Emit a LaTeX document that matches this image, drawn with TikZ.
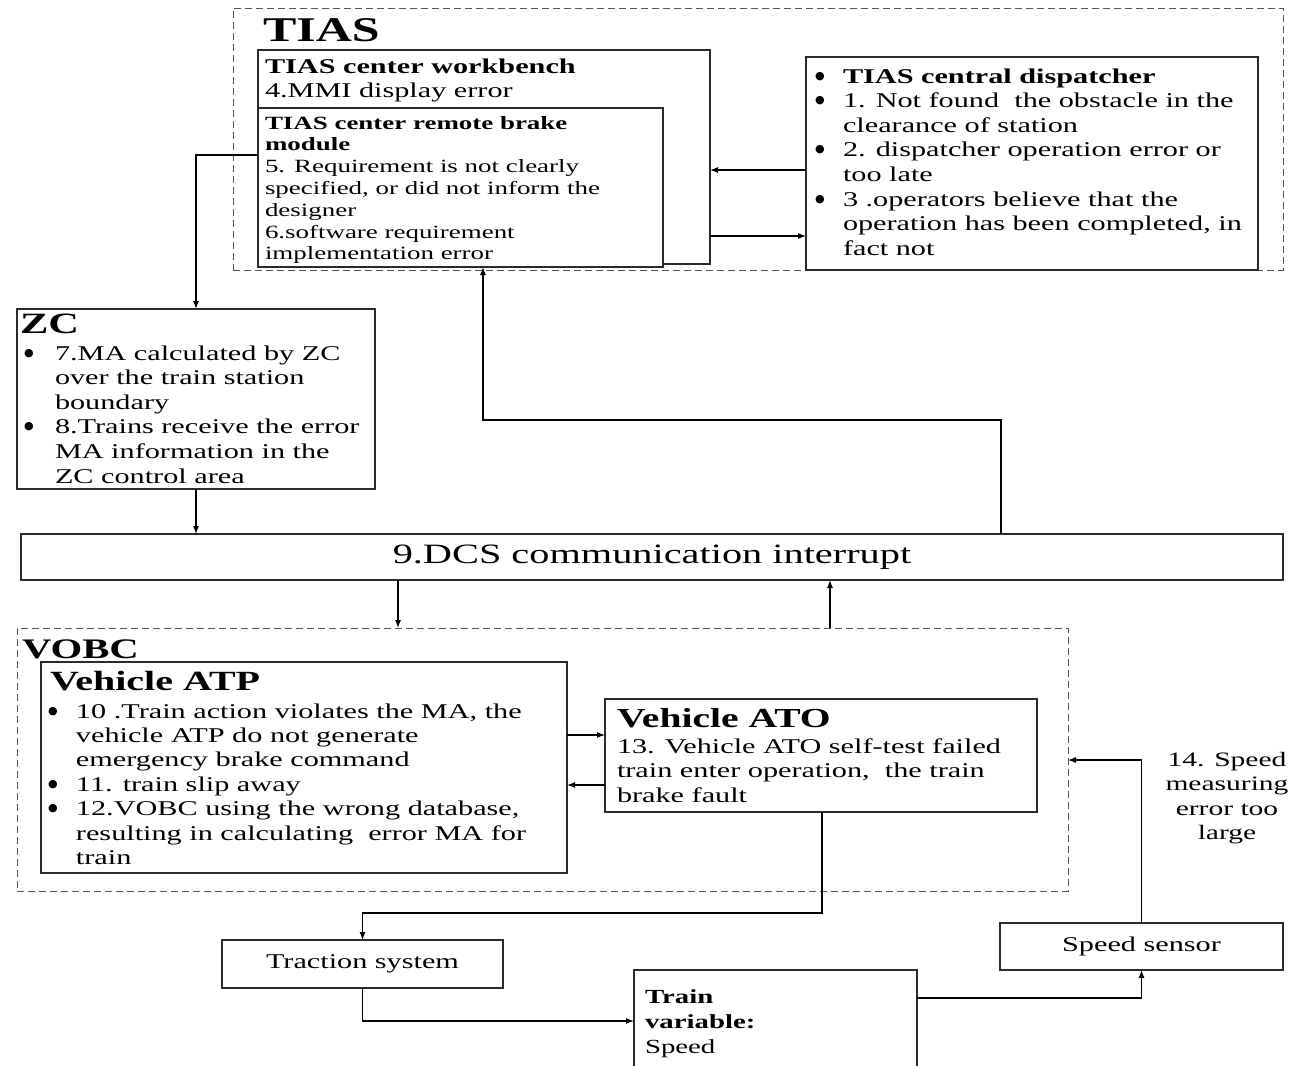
\documentclass[tikz,border=0pt]{standalone}
\usepackage{fontspec}
\setmainfont{Liberation Serif}[FakeStretch=1.44]
\newfontfamily\dotfont{DejaVu Sans}
\usetikzlibrary{arrows.meta}

\definecolor{boxc}{HTML}{2B2B2B}
\definecolor{dashc}{HTML}{555555}

\newlength{\bulw}
\setlength{\bulw}{28pt}
\newcommand{\blt}{\makebox[\bulw][l]{\raisebox{4pt}{\dotfont\fontsize{11}{11}\selectfont ●}}}
\newcommand{\cnt}{\hspace*{\bulw}}
\newcommand{\bodyfont}{\fontsize{21}{24.6}\selectfont}
\newcommand{\lines}[1]{\begin{tabular}[t]{@{}l@{}}#1\end{tabular}}

\tikzset{
  box/.style={draw=boxc, line width=1.1pt, fill=white, inner sep=0pt,
    outer sep=0pt, anchor=north west},
  group/.style={draw=dashc, line width=1pt, dash pattern=on 7pt off 4pt,
    inner sep=0pt, outer sep=0pt, anchor=north west},
  txt/.style={inner sep=0pt, outer sep=0pt, anchor=base west, font=\bodyfont},
  ttl/.style={inner sep=0pt, outer sep=0pt, anchor=base west},
  arr/.style={draw=black, line width=1.1pt, -{Latex[length=8pt,width=6pt]}},
}

\begin{document}
\begin{tikzpicture}[x=1pt,y=-1pt]
\useasboundingbox (0,0) rectangle (1294,1066);
\clip (0,0) rectangle (1294,1066);

% ---------------- TIAS group ----------------
\node[group, minimum width=1050pt, minimum height=262pt] (tias) at (233,8) {};
\node[ttl, font=\fontsize{34.7}{40}\selectfont\bfseries] (tiasT) at (263,41) {TIAS};

\node[box, minimum width=452pt, minimum height=214pt] (wb) at (258,50) {};
\node[txt] (wbT) at (265,73)
  {\lines{\textbf{TIAS center workbench}\\4.MMI display error}};

\node[box, minimum width=405pt, minimum height=159pt] (rb) at (258,108) {};
\node[txt, font=\fontsize{18.7}{21.8}\selectfont] (rbT) at (265,129)
  {\lines{\textbf{TIAS center remote brake}\\
          \textbf{module}\\
          5. Requirement is not clearly\\
          specified, or did not inform the\\
          designer\\
          6.software requirement\\
          implementation error}};

\node[box, minimum width=452pt, minimum height=213pt] (disp) at (806,57) {};
\node[txt] (dispT) at (815,83)
  {\lines{\blt\textbf{TIAS central dispatcher}\\
          \blt 1. Not found~ the obstacle in the\\
          \cnt clearance of station\\
          \blt 2. dispatcher operation error or\\
          \cnt too late\\
          \blt 3 .operators believe that the\\
          \cnt operation has been completed, in\\
          \cnt fact not}};

% ---------------- ZC ----------------
\node[box, minimum width=358pt, minimum height=180pt] (zc) at (17,309) {};
\node[ttl, font=\fontsize{29.5}{34}\selectfont\bfseries] (zcT) at (20,333) {ZC};
\node[txt, font=\bodyfont\setlength{\bulw}{31pt}] (zcB) at (24,360)
  {\lines{\blt 7.MA calculated by ZC\\
          \cnt over the train station\\
          \cnt boundary\\
          \blt 8.Trains receive the error\\
          \cnt MA information in the\\
          \cnt ZC control area}};

% ---------------- DCS ----------------
\node[box, minimum width=1262pt, minimum height=46pt,
      font=\fontsize{28}{33}\selectfont] (dcs) at (21,534)
  {9.DCS communication interrupt};

% ---------------- VOBC group ----------------
\node[group, minimum width=1051pt, minimum height=263pt] (vobc) at (17,628) {};
\node[ttl, font=\fontsize{28.3}{33}\selectfont\bfseries] (vobcT) at (22,658) {VOBC};

\node[box, minimum width=526pt, minimum height=211pt] (atp) at (41,662) {};
\node[ttl, font=\fontsize{27.8}{33}\selectfont\bfseries] (atpT) at (50,690) {Vehicle ATP};
\node[txt, font=\fontsize{21}{24.4}\selectfont\setlength{\bulw}{28pt}] (atpB) at (48,718)
  {\lines{\blt 10 .Train action violates the MA, the\\
          \cnt vehicle ATP do not generate\\
          \cnt emergency brake command\\
          \blt 11. train slip away\\
          \blt 12.VOBC using the wrong database,\\
          \cnt resulting in calculating~ error MA for\\
          \cnt train}};

\node[box, minimum width=432pt, minimum height=113pt] (ato) at (605,699) {};
\node[ttl, font=\fontsize{27.5}{33}\selectfont\bfseries] (atoT) at (617,727) {Vehicle ATO};
\node[txt, font=\fontsize{21}{24.5}\selectfont] (atoB) at (617,753)
  {\lines{13. Vehicle ATO self-test failed\\
          train enter operation,~ the train\\
          brake fault}};

% ---------------- plant side ----------------
\node[box, minimum width=281pt, minimum height=48pt, font=\bodyfont] (trac) at (222,940)
  {Traction system};
\node[box, minimum width=283pt, minimum height=47pt, font=\bodyfont] (ss) at (1000,923)
  {Speed sensor};
\node[box, minimum width=283pt, minimum height=120pt] (tv) at (634,970) {};
\node[txt, font=\fontsize{20}{25}\selectfont] (tvT) at (645,1003)
  {\lines{\textbf{Train}\\\textbf{variable:}\\Speed}};

\node[inner sep=0pt, anchor=base, font=\fontsize{20.5}{24.6}\selectfont] (lbl14) at (1227,766)
  {\begin{tabular}[t]{@{}c@{}}14. Speed\\measuring\\error too\\large\end{tabular}};

% ---------------- connector levels and bends ----------------
\coordinate (y170) at (0,170);
\coordinate (y236) at (0,236);
\coordinate (y155) at (0,155);
\coordinate (upA) at (1001,420);
\coordinate (upB) at (483,420);
\coordinate (dnX) at (398,600);
\coordinate (upX) at (830,600);
\coordinate (y735) at (0,735);
\coordinate (y785) at (0,785);
\coordinate (trB) at (822,913);
\coordinate (y1021) at (0,1021);
\coordinate (y998) at (0,998);
\coordinate (y760) at (0,760);

% ---------------- connectors ----------------
\draw[arr] (disp.west |- y170) -- (wb.east |- y170);
\draw[arr] (wb.east |- y236) -- (disp.west |- y236);
\draw[arr] (rb.west |- y155) -| (zc.north);
\draw[arr] (zc.south) -- (dcs.north -| zc.south);
\draw[arr] (dcs.north -| upA) -- (upA) -- (upB) -- (rb.south -| upB);
\draw[arr] (dcs.south -| dnX) -- (vobc.north -| dnX);
\draw[arr] (vobc.north -| upX) -- (dcs.south -| upX);
\draw[arr] (atp.east |- y735) -- (ato.west |- y735);
\draw[arr] (ato.west |- y785) -- (atp.east |- y785);
\draw[arr] (ato.south -| trB) -- (trB) -| (trac.north);
\draw[arr] (trac.south) |- (tv.west |- y1021);
\draw[arr] (tv.east |- y998) -| (ss.south);
\draw[arr] (ss.north) |- (vobc.east |- y760);

\end{tikzpicture}
\end{document}
